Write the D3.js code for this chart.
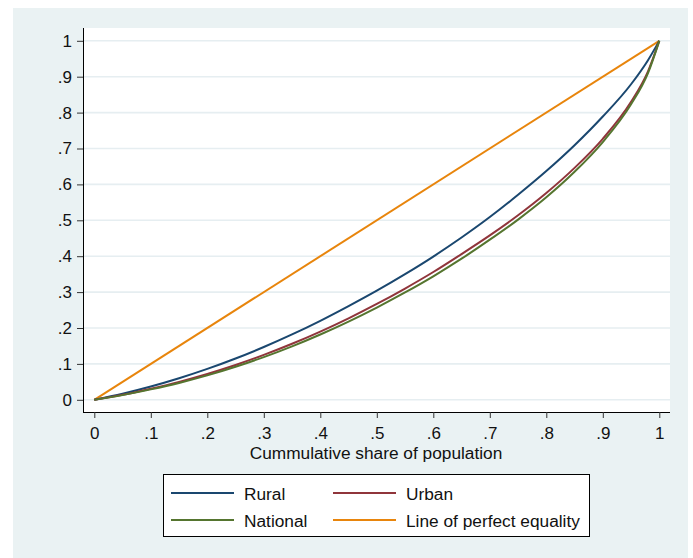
<!DOCTYPE html>
<html>
<head>
<meta charset="utf-8">
<script src="https://cdn.jsdelivr.net/npm/d3@7"></script>
<style>
  body { margin: 0; background: #fff; }
  text { font-family: "Liberation Sans", Arial, sans-serif; fill: #111; }
</style>
</head>
<body>
<svg></svg>
<script>
// cumulative population share and cumulative income share for each group
const share    = [0, .05, .1, .15, .2, .25, .3, .35, .4, .45, .5, .55, .6, .65, .7, .75, .8, .85, .9, .95, .98, 1];
const rural    = [0, .017, .037, .060, .086, .115, .147, .182, .220, .261, .304, .350, .399, .452, .509, .571, .637, .709, .789, .879, .946, 1];
const urban    = [0, .014, .031, .050, .072, .097, .125, .156, .190, .227, .267, .310, .356, .406, .458, .514, .576, .646, .727, .830, .915, 1];
const national = [0, .013, .029, .047, .068, .092, .119, .149, .182, .218, .257, .299, .344, .393, .446, .502, .564, .635, .718, .823, .910, 1];
const equality = [0, 1];

const ticks = [0, .1, .2, .3, .4, .5, .6, .7, .8, .9, 1];

const series = [
  {name: "Rural", color: "#1a476f", xs: share, ys: rural},
  {name: "Urban", color: "#90353b", xs: share, ys: urban},
  {name: "National", color: "#55752f", xs: share, ys: national},
  {name: "Line of perfect equality", color: "#e8850c", xs: [0, 1], ys: equality}
];

const width = 693, height = 558;
const svg = d3.select("svg").attr("width", width).attr("height", height);

// outer graph region
svg.append("rect").attr("x", 13).attr("y", 8).attr("width", 675).attr("height", 550)
  .attr("fill", "#eaf2f3");

const plot = {left: 83, right: 670, top: 28, bottom: 412};
svg.append("rect").attr("x", plot.left).attr("y", plot.top)
  .attr("width", plot.right - plot.left).attr("height", plot.bottom - plot.top)
  .attr("fill", "#fff");

const x = d3.scaleLinear().domain([0, 1]).range([94.3, 659.3]);
const y = d3.scaleLinear().domain([0, 1]).range([399.8, 40.8]);

const fmt = d => d === 0 ? "0" : d === 1 ? "1" : d3.format(".1f")(d).replace(/^0/, "");

// gridlines
svg.append("g").selectAll("line").data(ticks).enter().append("line")
  .attr("x1", plot.left + 1).attr("x2", plot.right)
  .attr("y1", d => y(d)).attr("y2", d => y(d))
  .attr("stroke", "#e6eef1").attr("stroke-width", 1.6);

// axes
const yAxis = svg.append("g").attr("transform", `translate(${plot.left},0)`)
  .call(d3.axisLeft(y).tickValues(ticks).tickFormat(fmt).tickSize(6).tickPadding(5));
yAxis.select(".domain").attr("d", `M0.5,${plot.top}V${plot.bottom}`).attr("stroke", "#000");

const xAxis = svg.append("g").attr("transform", `translate(0,${plot.bottom})`)
  .call(d3.axisBottom(x).tickValues(ticks).tickFormat(fmt).tickSize(6).tickPadding(9));
xAxis.select(".domain").attr("d", `M${plot.left},0.5H${plot.right}`).attr("stroke", "#000");

svg.selectAll(".tick line").attr("stroke", "#333");
svg.selectAll(".tick text").style("font-size", "17px").attr("fill", "#111");

svg.append("text").attr("x", 376).attr("y", 459).attr("text-anchor", "middle")
  .style("font-size", "17.3px").text("Cummulative share of population");

// curves
const line = d3.line().x(d => x(d[0])).y(d => y(d[1])).curve(d3.curveMonotoneX);
[series[3], series[0], series[1], series[2]].forEach(s => {
  svg.append("path")
    .datum(s.xs.map((v, i) => [v, s.ys[i]]))
    .attr("fill", "none").attr("stroke", s.color).attr("stroke-width", 2)
    .attr("d", line);
});

// legend
const lg = svg.append("g");
lg.append("rect").attr("x", 163.5).attr("y", 474.5).attr("width", 426).attr("height", 62)
  .attr("fill", "#fff").attr("stroke", "#000");
const cols = [171, 333];
const rows = [493, 520];
series.forEach((s, i) => {
  const cx = cols[i % 2], cy = rows[Math.floor(i / 2)];
  lg.append("line").attr("x1", cx).attr("x2", cx + 63).attr("y1", cy).attr("y2", cy)
    .attr("stroke", s.color).attr("stroke-width", 2);
  lg.append("text").attr("x", cx + 73).attr("y", cy + 7)
    .style("font-size", "17.3px").text(s.name);
});
</script>
</body>
</html>
